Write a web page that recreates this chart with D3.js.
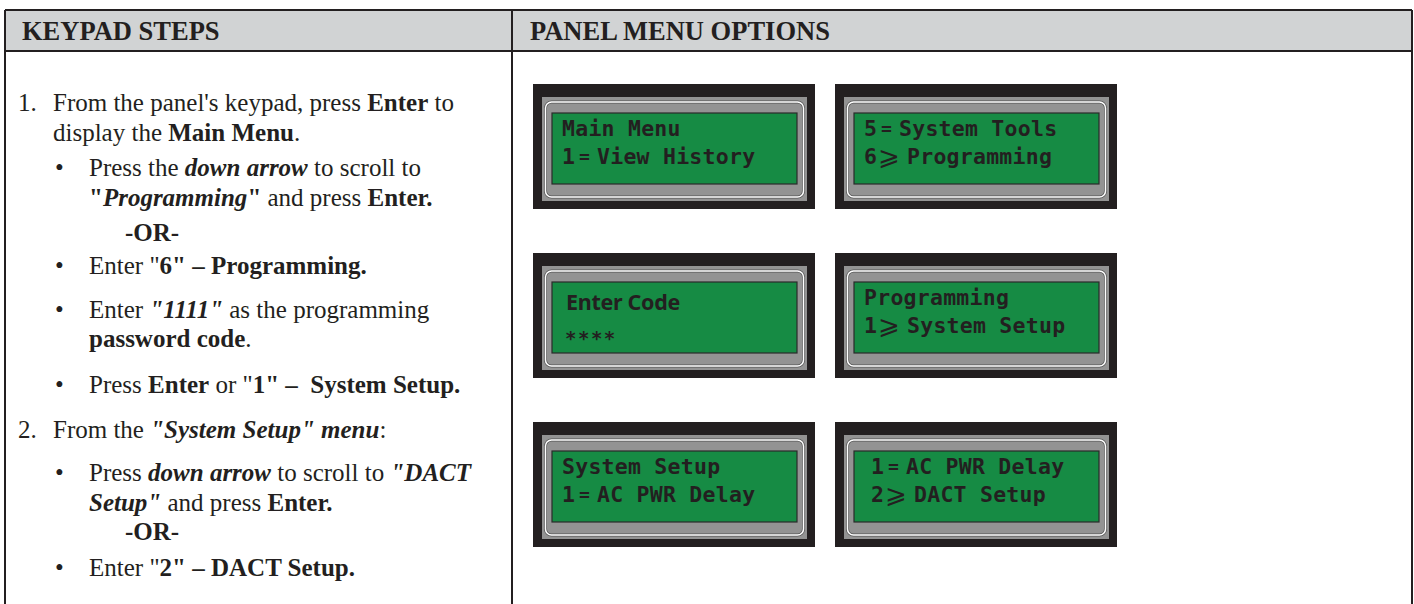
<!DOCTYPE html>
<html>
<head>
<meta charset="utf-8">
<script src="https://cdn.jsdelivr.net/npm/d3@7"></script>
<style>
  html, body { margin: 0; padding: 0; background: #fff; }
  svg { display: block; }
  text { white-space: pre; }
</style>
</head>
<body>
<div id="chart"></div>
<script>
// ---------- content ----------
const headers = ["KEYPAD STEPS", "PANEL MENU OPTIONS"];

// Step lines: kind = "num" (numbered paragraph), "cont" (continuation of numbered),
// "bullet", "bcont" (continuation of bullet), "or" (the -OR- separator)
const stepKinds = ["num", "cont", "bullet", "bcont", "or", "bullet", "bullet", "bcont", "bullet",
                   "num", "bullet", "bcont", "or", "bullet"];
const stepNumbers = ["1.", "2."];
const stepSegments = [
  [["From the panel's keypad, press ", "r"], ["Enter", "b"], [" to", "r"]],
  [["display the ", "r"], ["Main Menu", "b"], [".", "r"]],
  [["Press the ", "r"], ["down arrow", "bi"], [" to scroll to", "r"]],
  [["\"", "b"], ["Programming", "bi"], ["\"", "b"], [" and press ", "r"], ["Enter.", "b"]],
  [["-OR-", "b"]],
  [["Enter \"", "r"], ["6\" – Programming.", "b"]],
  [["Enter ", "r"], ["\"1111\"", "bi"], [" as the programming", "r"]],
  [["password code", "b"], [".", "r"]],
  [["Press ", "r"], ["Enter", "b"], [" or \"", "r"], ["1\" –  System Setup.", "b"]],
  [["From the ", "r"], ["\"System Setup\" menu", "bi"], [":", "r"]],
  [["Press ", "r"], ["down arrow", "bi"], [" to scroll to ", "r"], ["\"DACT", "bi"]],
  [["Setup\"", "bi"], [" and press ", "r"], ["Enter.", "b"]],
  [["-OR-", "b"]],
  [["Enter \"", "r"], ["2\" – DACT Setup.", "b"]]
];

// LCD screens (column, row, two display lines)
const screenCols = [0, 1, 0, 1, 0, 1];
const screenRows = [0, 0, 1, 1, 2, 2];
const screenLine1 = [
  {text: "Main Menu"},
  {num: "5", sym: "=", text: "System Tools"},
  {text: "Enter Code", prop: true},
  {text: "Programming"},
  {text: "System Setup"},
  {num: "1", sym: "=", text: "AC PWR Delay"}
];
const screenLine2 = [
  {num: "1", sym: "=", text: "View History"},
  {num: "6", sym: "⩾", text: "Programming"},
  {text: "****", stars: true},
  {num: "1", sym: "⩾", text: "System Setup"},
  {num: "1", sym: "=", text: "AC PWR Delay"},
  {num: "2", sym: "⩾", text: "DACT Setup"}
];

// ---------- layout ----------
const W = 1414, H = 604;
const INK = "#231f20";
const svg = d3.select("#chart").append("svg").attr("width", W).attr("height", H);
svg.append("rect").attr("width", W).attr("height", H).attr("fill", "#fff");

const tableLeft = 5, tableRight = 1412, divX = 512, headTop = 10, headBot = 51;

// header
svg.append("rect").attr("x", tableLeft).attr("y", headTop)
  .attr("width", tableRight - tableLeft).attr("height", headBot - headTop)
  .attr("fill", "#d1d3d4");
const colX = d3.scaleOrdinal().domain(headers).range([22, 530]);
svg.selectAll("text.hdr").data(headers).join("text")
  .attr("class", "hdr")
  .attr("x", d => colX(d)).attr("y", 39.5)
  .attr("font-family", "'Liberation Serif', 'Times New Roman', serif")
  .attr("font-weight", "bold").attr("font-size", 26.5).attr("fill", INK)
  .text(d => d);

// borders
const lines = [
  [tableLeft, headTop, tableRight, headTop],
  [tableLeft, headBot, tableRight, headBot],
  [tableLeft, headTop, tableLeft, H],
  [divX, headTop, divX, H],
  [tableRight, headTop, tableRight, H]
];
svg.selectAll("line.border").data(lines).join("line")
  .attr("class", "border")
  .attr("x1", d => d[0]).attr("y1", d => d[1]).attr("x2", d => d[2]).attr("y2", d => d[3])
  .attr("stroke", INK).attr("stroke-width", 2);

// steps text
const baselines = [111, 141, 176, 206, 241, 274, 318, 347, 393, 438, 481, 511, 540, 576];
const kindX = {num: 53, cont: 53, bullet: 89, bcont: 89, or: 125};
const serif = "'Liberation Serif', 'Times New Roman', serif";
const FS = 25;

let numIdx = 0;
stepKinds.forEach((k, i) => {
  const y = baselines[i];
  if (k === "num") {
    svg.append("text").attr("x", 18).attr("y", y)
      .attr("font-family", serif).attr("font-size", FS).attr("fill", INK)
      .text(stepNumbers[numIdx++]);
  }
  if (k === "bullet") {
    svg.append("text").attr("x", 55).attr("y", y)
      .attr("font-family", serif).attr("font-size", FS).attr("fill", INK)
      .text("•");
  }
  const t = svg.append("text").attr("x", kindX[k]).attr("y", y)
    .attr("font-family", serif).attr("font-size", FS).attr("fill", INK);
  t.selectAll("tspan").data(stepSegments[i]).join("tspan")
    .attr("font-weight", d => d[1].includes("b") ? "bold" : "normal")
    .attr("font-style", d => d[1].includes("i") ? "italic" : "normal")
    .text(d => d[0]);
});

// LCD screens
const lcdW = 282, lcdH = 125;
const sx = d3.scalePoint().domain([0, 1]).range([533, 835]);
const sy = d3.scalePoint().domain([0, 1, 2]).range([84, 422]);
const mono = "'DejaVu Sans Mono', monospace";
const MFS = 21.5, MLS = 0.25;
const screenIndent = [0, 0, 0, 0, 0, 7];

screenCols.forEach((c, i) => {
  const g = svg.append("g").attr("transform", `translate(${sx(c)},${sy(screenRows[i])})`);
  g.append("rect").attr("width", lcdW).attr("height", lcdH).attr("fill", INK);
  g.append("rect").attr("x", 9).attr("y", 13).attr("width", 265).attr("height", 104).attr("fill", "#939393");
  g.append("rect").attr("x", 12.5).attr("y", 18).attr("width", 258).attr("height", 95).attr("rx", 6)
    .attr("fill", "none").attr("stroke", "#555").attr("stroke-width", 3);
  g.append("rect").attr("x", 12.5).attr("y", 18).attr("width", 258).attr("height", 95).attr("rx", 6)
    .attr("fill", "none").attr("stroke", "#fff").attr("stroke-width", 1.5);
  g.append("rect").attr("x", 19).attr("y", 29).attr("width", 245).attr("height", 71)
    .attr("fill", "#168b44").attr("stroke", "#2a2a2a").attr("stroke-width", 1.2);

  [screenLine1[i], screenLine2[i]].forEach((ln, j) => {
    const by = j === 0 ? 52 : 80;
    const x0 = 29 + screenIndent[i];
    if (ln.num) {
      g.append("text").attr("x", x0).attr("y", by)
        .attr("font-family", mono).attr("font-weight", "bold").attr("font-size", MFS).attr("fill", INK)
        .text(ln.num);
      const arrow = ln.sym !== "=";
      g.append("text").attr("x", x0 + (arrow ? 14 : 17)).attr("y", by + (arrow ? 1 : -1))
        .attr("font-family", arrow ? "'DejaVu Sans', sans-serif" : mono)
        .attr("font-weight", arrow ? "normal" : "bold")
        .attr("font-size", arrow ? 26 : 18).attr("fill", INK)
        .text(ln.sym);
      g.append("text").attr("x", x0 + (arrow ? 43 : 35)).attr("y", by)
        .attr("font-family", mono).attr("font-weight", "bold").attr("font-size", MFS)
        .attr("letter-spacing", MLS).attr("fill", INK)
        .text(ln.text);
    } else if (ln.prop) {
      g.append("text").attr("x", x0 + 4).attr("y", by + 5)
        .attr("font-family", "'Noto Sans', sans-serif").attr("font-weight", "bold").attr("font-size", 21.5)
        .attr("letter-spacing", -0.3).attr("fill", INK)
        .text(ln.text);
    } else if (ln.stars) {
      g.append("text").attr("x", x0 + 3).attr("y", by + 12)
        .attr("font-family", mono).attr("font-weight", "bold").attr("font-size", 19)
        .attr("letter-spacing", 1.5).attr("fill", INK)
        .text(ln.text);
    } else {
      g.append("text").attr("x", x0).attr("y", by)
        .attr("font-family", mono).attr("font-weight", "bold").attr("font-size", MFS)
        .attr("letter-spacing", MLS).attr("fill", INK)
        .text(ln.text);
    }
  });
});
</script>
</body>
</html>
